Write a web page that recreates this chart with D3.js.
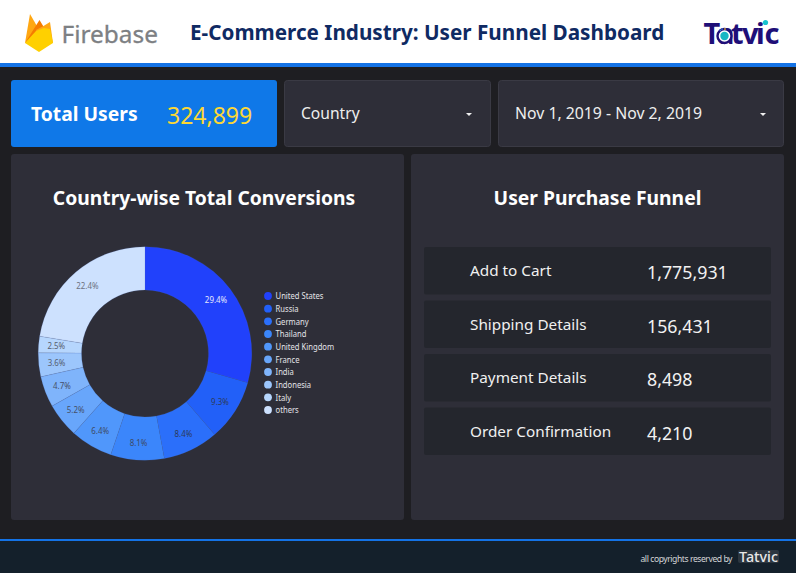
<!DOCTYPE html>
<html><head><meta charset="utf-8">
<script src="https://cdn.jsdelivr.net/npm/d3@7"></script>
<style>html,body{margin:0;padding:0;background:#1e1e22;overflow:hidden}svg{display:block}text{font-family:"Noto Sans",sans-serif}</style>
</head><body><svg id="c" width="796" height="573"></svg>
<script>
const countries=["United States","Russia","Germany","Thailand","United Kingdom","France","India","Indonesia","Italy","others"];
const shares=[29.4,9.3,8.4,8.1,6.4,5.2,4.7,3.6,2.5,22.4];
const sliceColors=["#2141fb","#2260f8","#2b6ffa","#3b86fb","#5097fb","#68a6fb","#7fb4fb","#9cc6fc","#b6d6fd","#cde1fe"];
const labelColors=["#e4e8fb","#2c3a58","#2c3a58","#3d4a66","#3d4a66","#465068","#465068","#565e70","#565e70","#6c7280"];
const funnelSteps=["Add to Cart","Shipping Details","Payment Details","Order Confirmation"];
const funnelValues=[1775931,156431,8498,4210];
const totalUsers=324899;

const svg=d3.select("#c");
const rect=(x,y,w,h,f,r=0,st=null)=>svg.append("rect").attr("x",x).attr("y",y).attr("width",w).attr("height",h).attr("fill",f).attr("rx",r).attr("stroke",st);
const text=(x,y,s,size,fill,weight=400,anchor="start")=>svg.append("text").attr("x",x).attr("y",y).text(s).attr("font-size",size).attr("fill",fill).attr("font-weight",weight).attr("text-anchor",anchor);
const fmt=d3.format(",");

// page frame
rect(0,0,796,573,"#1e1e22");
rect(0,0,796,63,"#ffffff");
rect(0,63,796,4,"#1473e6");
rect(0,539,796,34,"#14202b");
rect(0,539,796,2,"#1473e6");

// Firebase logo
const flame=svg.append("g");
flame.append("path").attr("d","M25 43 L30 14 L37.5 27 L32 38Z").attr("fill","#ffa712");
flame.append("path").attr("d","M25 43 L39.5 20 L45 29 L52.5 43 L38 36Z").attr("fill","#f57c00");
flame.append("path").attr("d","M36 30 L43.5 26 L50 22 L53 43 L40 40Z").attr("fill","#ffa712");
flame.append("path").attr("d","M25 43 L36 31 L44 28 L50 29 L53 43 L39 52Z").attr("fill","#ffd000");
text(61.5,43,"Firebase",24.4,"#7d8083").attr("font-family","Roboto,sans-serif").attr("stroke","#7d8083").attr("stroke-width",.3);

text(190,40,"E-Commerce Industry: User Funnel Dashboard",20.7,"#0f2a63",700);

// Tatvic logo
text(0,44,"Tatvic",29,"#1f0f78",700).attr("font-family","Lato,sans-serif").attr("x","703.5 717 731 742 756 764.5");
svg.append("circle").attr("cx",724.5).attr("cy",36).attr("r",7).attr("fill","#ffffff").attr("stroke","#1f0f78").attr("stroke-width",2.4);
svg.append("circle").attr("cx",724.5).attr("cy",36).attr("r",4.2).attr("fill","#18b7c4");
svg.append("path").attr("d","M719.5 29.5l1.5 1.5M722 28v2").attr("stroke","#3a78d8").attr("stroke-width",1.2);
svg.append("path").attr("d","M725 28v2").attr("stroke","#f0b429").attr("stroke-width",1.2);
svg.append("circle").attr("cx",765.5).attr("cy",22.5).attr("r",2.6).attr("fill","#15c5cf");

// KPI and filters
rect(11,80,266,67,"#0f78e8",3);
text(31,121,"Total Users",19.3,"#ffffff",700);
text(167,124,fmt(totalUsers),23,"#fdd835");
rect(284.5,80.5,206,66,"#2e2e38",3,"#3a3a44");
text(301,119,"Country",15.6,"#eeeeee");
rect(498.5,80.5,285,66,"#2e2e38",3,"#3a3a44");
text(515,119,"Nov 1, 2019 - Nov 2, 2019",15.8,"#eeeeee");
[[466,113],[760,113]].forEach(([x,y])=>svg.append("path").attr("d",`M${x} ${y}h6l-3 3z`).attr("fill","#f0f0f0"));

// panels
rect(11,154,393,366,"#2e2e38",3);
rect(411,154,373,366,"#2e2e38",3);
text(204,205,"Country-wise Total Conversions",19.3,"#ffffff",700,"middle");
text(597.5,205,"User Purchase Funnel",19.3,"#ffffff",700,"middle");

// donut
const pie=d3.pie().sort(null).value(d=>d);
const arc=d3.arc().innerRadius(63.5).outerRadius(106.8);
const labelArc=d3.arc().innerRadius(89).outerRadius(89);
const donut=svg.append("g").attr("transform","translate(145,353.5)");
const arcs=pie(shares);
donut.selectAll("path").data(arcs).join("path").attr("d",arc)
  .attr("fill",(d,i)=>sliceColors[i]).attr("stroke","#4a6fc0").attr("stroke-opacity",.4).attr("stroke-width",.4);
donut.selectAll("text").data(arcs).join("text")
  .attr("transform",d=>`translate(${labelArc.centroid(d)}) scale(.86,1)`)
  .attr("dy","0.35em").attr("text-anchor","middle").attr("font-size",9.2)
  .attr("fill",(d,i)=>labelColors[i]).text((d,i)=>shares[i].toFixed(1)+"%");

// legend
const legendY=d3.scalePoint().domain(countries).range([296,410]);
const legend=svg.append("g");
const rows=legend.selectAll("g").data(countries).join("g").attr("transform",d=>`translate(268,${legendY(d)})`);
rows.append("circle").attr("r",3.9).attr("fill",(d,i)=>sliceColors[i]);
rows.append("text").attr("x",9).attr("dy","0.35em").attr("transform","scale(.84,1)").attr("font-size",9.1).attr("fill","#e4e4e8").text(d=>d);

// funnel rows
const funnelY=d3.scaleBand().domain(funnelSteps).range([247,455]).paddingInner(.115).paddingOuter(0);
funnelSteps.forEach((s,i)=>{
  const y=funnelY(s),h=funnelY.bandwidth();
  rect(424,y,347,h,"#24262d",2);
  text(470,y+29.2,s,15.3,"#f0f0f0");
  text(647,y+32,fmt(funnelValues[i]),17.8,"#f2f2f2");
});

// footer
text(640.5,562,"all copyrights reserved by",8.6,"#d4d6d8").attr("textLength",92);
rect(738,550,41,13,"#2c3640",2);
text(739,562,"Tatvic",14.5,"#e8e8e8",500).attr("font-family","Lato,sans-serif").attr("textLength",39).attr("lengthAdjust","spacingAndGlyphs");
</script></body></html>
